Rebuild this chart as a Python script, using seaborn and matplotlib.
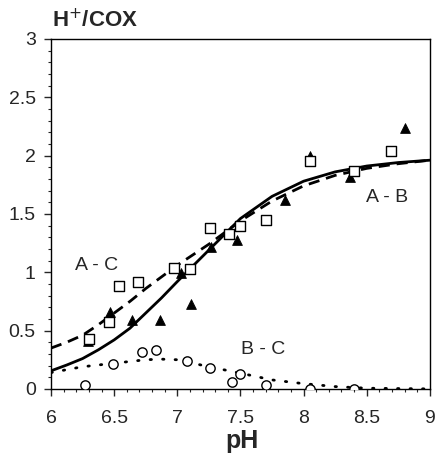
import matplotlib
matplotlib.use("Agg")
import matplotlib.pyplot as plt
import pandas as pd
import seaborn as sns
from matplotlib.ticker import MultipleLocator

tri_ph = [6.29, 6.47, 6.64, 6.86, 7.03, 7.11, 7.27, 7.47, 7.85, 8.05, 8.37, 8.80]
tri_val = [0.41, 0.66, 0.59, 0.59, 0.99, 0.73, 1.22, 1.28, 1.62, 2.00, 1.82, 2.24]

sq_ph = [6.30, 6.46, 6.54, 6.69, 6.97, 7.10, 7.26, 7.41, 7.50, 7.70, 8.05, 8.40, 8.69]
sq_val = [0.43, 0.57, 0.885, 0.92, 1.04, 1.03, 1.38, 1.33, 1.40, 1.45, 1.95, 1.87, 2.04]

circ_ph = [6.27, 6.49, 6.72, 6.83, 7.08, 7.26, 7.43, 7.50, 7.70, 8.05, 8.40]
circ_val = [0.03, 0.21, 0.32, 0.33, 0.24, 0.18, 0.06, 0.13, 0.03, 0.00, 0.00]

# Fitted curves
curve_ph = [6.0, 6.125, 6.25, 6.375, 6.5, 6.625, 6.75, 6.875, 7.0, 7.25, 7.5,
            7.75, 8.0, 8.25, 8.5, 8.75, 9.0]
ab_val = [0.155, 0.205, 0.26, 0.335, 0.42, 0.52, 0.65, 0.78, 0.92, 1.19, 1.46,
          1.65, 1.78, 1.86, 1.91, 1.94, 1.96]
ac_val = [0.35, 0.40, 0.46, 0.55, 0.65, 0.75, 0.86, 0.96, 1.06, 1.24, 1.44,
          1.61, 1.74, 1.83, 1.89, 1.93, 1.96]
bc_val = [0.14, 0.165, 0.19, 0.205, 0.22, 0.235, 0.25, 0.255, 0.25, 0.19, 0.135,
          0.077, 0.045, 0.02, 0.006, 0.003, 0.0]

curves = pd.DataFrame({"pH": curve_ph, "AB": ab_val, "AC": ac_val, "BC": bc_val})

sns.set_style("ticks")
plt.rcParams["font.family"] = ["Liberation Sans", "DejaVu Sans"]

fig = plt.figure(figsize=(4.36, 4.57), dpi=100)
ax = fig.add_axes([0.117, 0.149, 0.869, 0.766])

sns.lineplot(data=curves, x="pH", y="AB", ax=ax, color="black", lw=2.0)
sns.lineplot(data=curves, x="pH", y="AC", ax=ax, color="black", lw=2.0,
             linestyle=(0, (4, 2.5)))
sns.lineplot(data=curves, x="pH", y="BC", ax=ax, color="black", lw=2.0,
             linestyle=(0, (0.5, 4)), dash_capstyle="round")

sns.scatterplot(x=tri_ph, y=tri_val, ax=ax, marker="^", s=50, color="black",
                edgecolor="black", zorder=5)
sns.scatterplot(x=sq_ph, y=sq_val, ax=ax, marker="s", s=50, facecolor="white",
                edgecolor="black", linewidth=1.0, zorder=5)
sns.scatterplot(x=circ_ph, y=circ_val, ax=ax, marker="o", s=45, facecolor="white",
                edgecolor="black", linewidth=1.0, zorder=5)

ax.text(6.36, 1.06, "A - C", fontsize=14, ha="center", va="center")
ax.text(8.66, 1.64, "A - B", fontsize=14, ha="center", va="center")
ax.text(7.68, 0.34, "B - C", fontsize=14, ha="center", va="center")

ax.set_xlim(6, 9)
ax.set_ylim(0, 3)
ax.xaxis.set_minor_locator(MultipleLocator(0.1))
ax.yaxis.set_minor_locator(MultipleLocator(0.1))
ax.set_xticks([6, 6.5, 7, 7.5, 8, 8.5, 9])
ax.set_xticklabels(["6", "6.5", "7", "7.5", "8", "8.5", "9"])
ax.set_yticks([0, 0.5, 1, 1.5, 2, 2.5, 3])
ax.set_yticklabels(["0", "0.5", "1", "1.5", "2", "2.5", "3"])
ax.tick_params(which="major", direction="out", length=5, width=1, labelsize=14)
ax.tick_params(which="minor", direction="out", length=2.5, width=0.8)
ax.tick_params(axis="x", pad=10)
ax.tick_params(axis="y", pad=6)

for sp in ax.spines.values():
    sp.set_visible(True)
    sp.set_linewidth(1.0)
    sp.set_color("black")

ax.set_xlabel("")
ax.set_ylabel("")
fig.text(0.556, 1 - 448 / 457, "pH", fontsize=18, fontweight="bold",
         ha="center", va="baseline")
fig.text(0.119, 1 - 20 / 457, "H$^{+}$/COX", fontsize=16, fontweight="bold",
         ha="left", va="center")

fig.savefig("out.png", dpi=100)
